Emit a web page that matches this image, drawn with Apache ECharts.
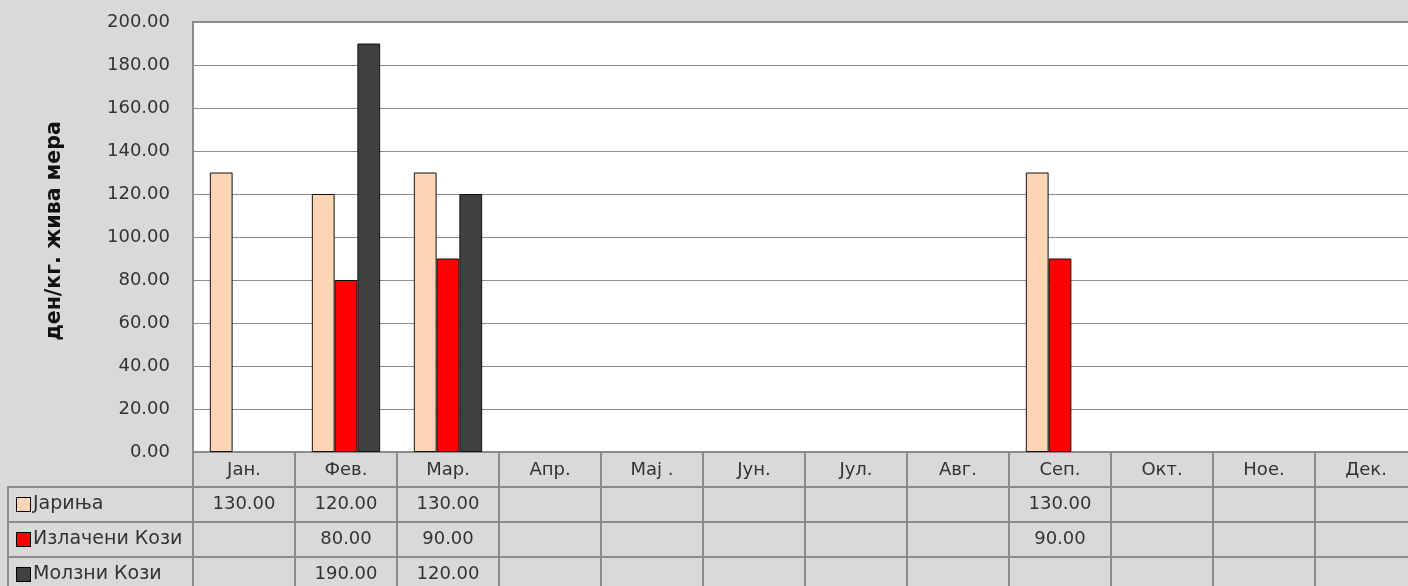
<!DOCTYPE html>
<html>
<head>
<meta charset="utf-8">
<script src="https://cdn.jsdelivr.net/npm/echarts@6/dist/echarts.min.js"></script>
<style>
  html, body { margin: 0; padding: 0; background: #d9d9d9; }
  #chart { width: 1408px; height: 586px; }
</style>
</head>
<body>
<div id="chart"></div>
<script>
// Months shown along the category axis and in the data-table header
const months = ['Јан.', 'Фев.', 'Мар.', 'Апр.', 'Мај .', 'Јун.', 'Јул.', 'Авг.', 'Сеп.', 'Окт.', 'Ное.', 'Дек.'];

// Prices per month (den/kg live weight); null = no price recorded
const jarinja   = [130, 120, 130, null, null, null, null, null, 130, null, null, null];
const izlacheni = [null, 80,  90, null, null, null, null, null,  90, null, null, null];
const molzni    = [null, 190, 120, null, null, null, null, null, null, null, null, null];

const seriesNames = ['Јариња', 'Излачени Кози', 'Молзни Кози'];
const seriesColors = ['#fcd5b4', '#ff0000', '#404040'];
const yTicks = { min: 0, max: 200, step: 20 };

const FONT = 'DejaVu Sans';
const TEXT = '#333333';
const LINE = '#8c8c8c';

// Layout of the plot and the data table under it
const PLOT_LEFT = 193, PLOT_TOP = 22, PLOT_W = 1224, PLOT_H = 430;
const ROW_H = 35, LABEL_COL_W = 185;

const rows = [jarinja, izlacheni, molzni];

// Table cells: [month index, row index, value]
const cellData = [];
rows.forEach((vals, r) => {
  vals.forEach((v, m) => { if (v != null) cellData.push([m, r, v]); });
});

const rich = { name: { fontFamily: FONT, fontSize: 19, color: TEXT, padding: [0, 0, 0, 3] } };
seriesNames.forEach((n, i) => {
  rich['sq' + i] = { width: 13, height: 13, backgroundColor: seriesColors[i], borderColor: '#000', borderWidth: 1 };
});

const chart = echarts.init(document.getElementById('chart'), null, { renderer: 'canvas' });

chart.setOption({
  backgroundColor: '#d9d9d9',
  animation: false,
  grid: [
    { left: PLOT_LEFT, top: PLOT_TOP, width: PLOT_W, height: PLOT_H, outerBoundsMode: 'none',
      show: true, backgroundColor: '#ffffff', borderColor: LINE, borderWidth: 2, containLabel: false },
    { left: PLOT_LEFT, top: PLOT_TOP + PLOT_H + ROW_H, width: PLOT_W, height: ROW_H * 3, outerBoundsMode: 'none',
      show: true, backgroundColor: 'transparent', borderColor: LINE, borderWidth: 2, containLabel: false }
  ],
  xAxis: [
    { type: 'category', gridIndex: 0, data: months,
      axisLine: { lineStyle: { color: LINE, width: 2 } },
      axisTick: { show: true, interval: 0, length: ROW_H, lineStyle: { color: LINE, width: 2 } },
      axisLabel: { interval: 0, margin: 18, verticalAlign: 'middle', fontFamily: FONT, fontSize: 18, color: TEXT },
      splitLine: { show: false } },
    { type: 'category', gridIndex: 1, data: months,
      axisLine: { show: false }, axisTick: { show: false }, axisLabel: { show: false },
      splitLine: { show: true, interval: 0, lineStyle: { color: LINE, width: 2 } } }
  ],
  yAxis: [
    { type: 'value', gridIndex: 0, min: yTicks.min, max: yTicks.max, interval: yTicks.step,
      name: 'ден/кг. жива мера', nameLocation: 'middle', nameGap: 128, nameRotate: 90,
      nameTextStyle: { fontFamily: FONT, fontSize: 20.5, fontWeight: 'bold', color: '#111111',
        padding: [0, 0, 0, 12] },
      axisLine: { show: true, lineStyle: { color: LINE, width: 2 } },
      axisTick: { show: false },
      axisLabel: { margin: 23, fontFamily: FONT, fontSize: 18, color: TEXT,
        formatter: v => v.toFixed(2) },
      splitLine: { show: true, lineStyle: { color: LINE, width: 1 } } },
    { type: 'category', gridIndex: 1, data: seriesNames, inverse: true,
      axisLine: { show: true, lineStyle: { color: LINE, width: 2 } },
      axisTick: { show: true, interval: 0, length: LABEL_COL_W, lineStyle: { color: LINE, width: 2 } },
      axisLabel: { interval: 0, align: 'left', margin: LABEL_COL_W - 9,
        formatter: (v, i) => '{sq' + i + '|}{name|' + v + '}', rich: rich },
      splitLine: { show: true, interval: 0, lineStyle: { color: LINE, width: 2 } } },
    // Outer left edge of the row-label column
    { type: 'value', gridIndex: 1, position: 'left', offset: LABEL_COL_W,
      axisLine: { show: true, lineStyle: { color: LINE, width: 2 } },
      axisTick: { show: false }, axisLabel: { show: false }, splitLine: { show: false } }
  ],
  series: [
    ...rows.map((vals, i) => ({
      type: 'bar', name: seriesNames[i], xAxisIndex: 0, yAxisIndex: 0, data: vals,
      barGap: '0%', barCategoryGap: '33%',
      itemStyle: { color: seriesColors[i], borderColor: '#111', borderWidth: 1 }
    })),
    {
      type: 'custom', xAxisIndex: 1, yAxisIndex: 1, data: cellData,
      renderItem: (params, api) => {
        const p = api.coord([api.value(0), api.value(1)]);
        return { type: 'text', x: p[0], y: p[1],
          style: { text: api.value(2).toFixed(2), align: 'center', verticalAlign: 'middle',
            fontFamily: FONT, fontSize: 18, fill: TEXT } };
      }
    }
  ]
});
</script>
</body>
</html>
